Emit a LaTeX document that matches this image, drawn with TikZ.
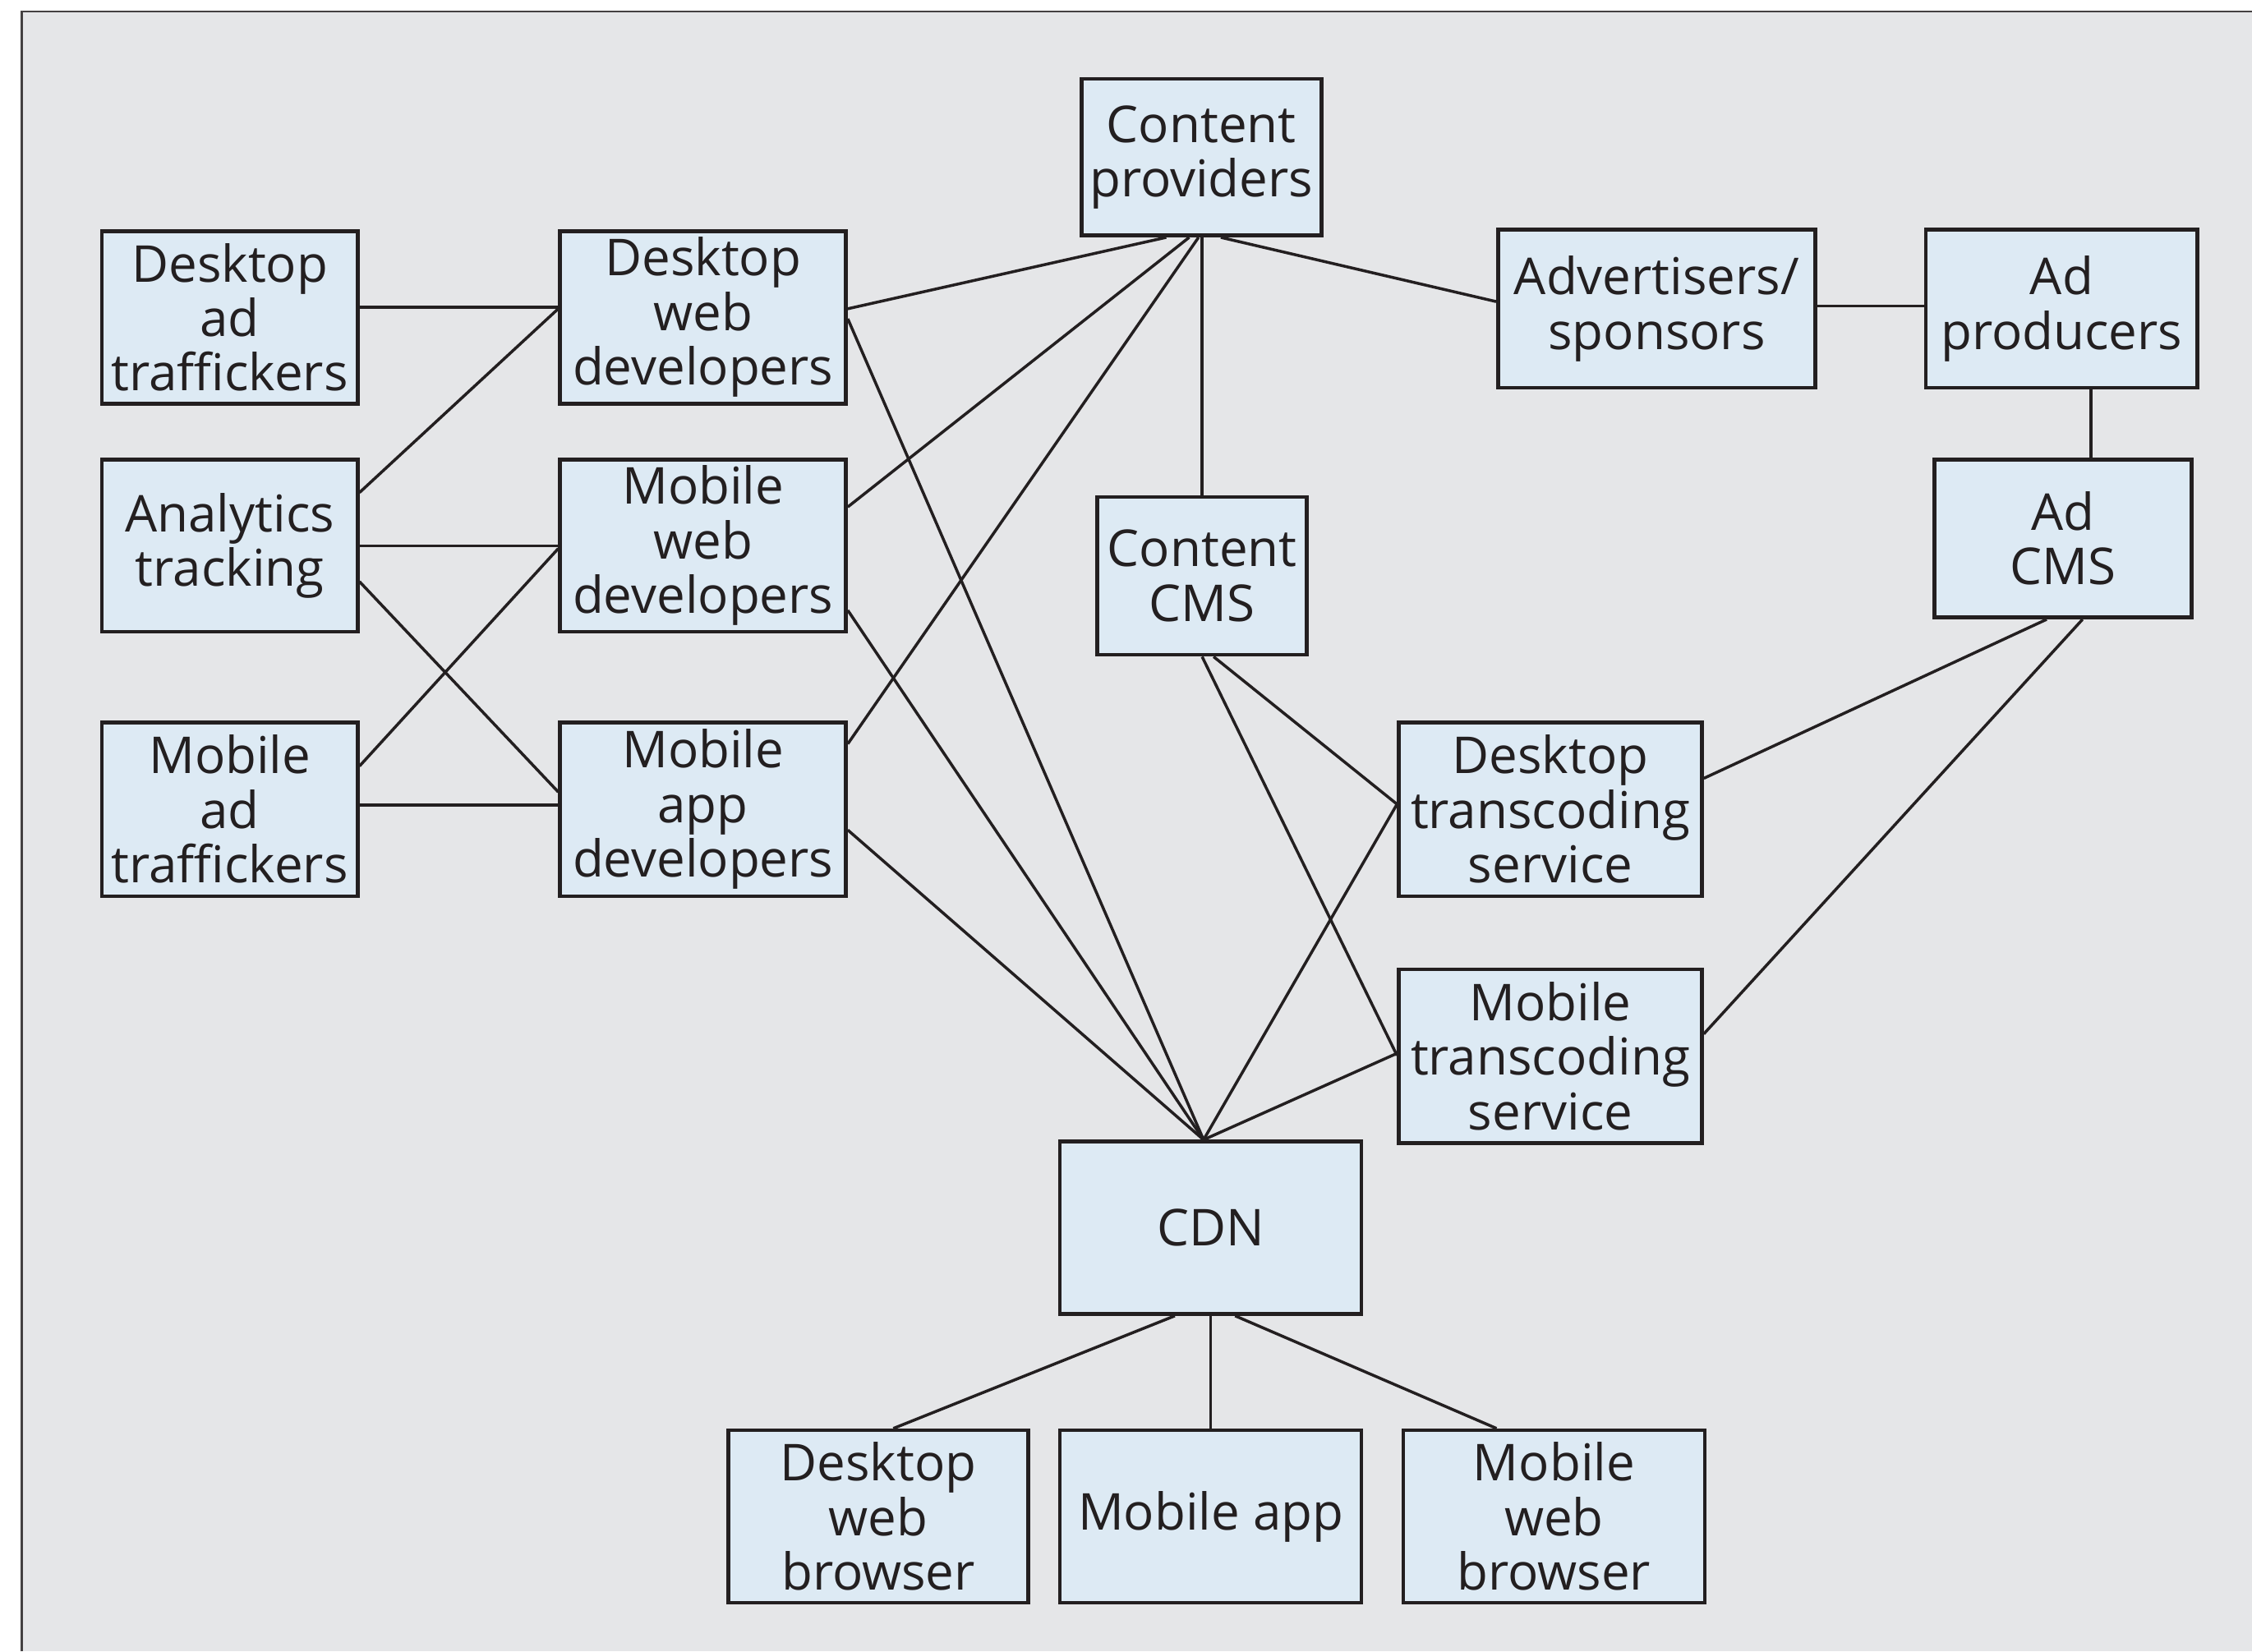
\documentclass[tikz,border=0pt]{standalone}
\usepackage{fontspec}
\setmainfont{Open Sans}
\usetikzlibrary{calc}
\definecolor{bg}{HTML}{E5E6E8}
\definecolor{boxfill}{HTML}{DDEAF4}
\definecolor{ink}{HTML}{231F20}
\newcommand\mkbox[6]{\node[box, minimum width={#4*0.01748cm}, minimum height={#5*0.01748cm}] (#1) at (#2,#3) {#6};}
\begin{document}
\begin{tikzpicture}[x=0.01748cm,y=-0.01748cm,
  box/.style={draw=ink, line width=1.3pt, fill=boxfill, text=ink, align=center, inner sep=0pt, font=\fontsize{17.6}{18.9}\selectfont},
  link/.style={draw=ink, line width=1pt}]
\useasboundingbox (0,0) rectangle (1568,1150);
\fill[white] (0,0) rectangle (1568,1150);
\fill[bg] (15,8) rectangle (1568,1150);
\draw[ink!85, line width=0.8pt] (15,1150) -- (15,8) -- (1568,8);

\mkbox{dat}{160}{221}{178}{120}{Desktop\\ad\\traffickers}
\mkbox{dwd}{489.5}{221}{199}{120}{Desktop\\web\\developers}
\mkbox{cp}{836.5}{109.5}{167}{109}{Content\\providers}
\mkbox{adv}{1153.5}{215}{221}{110}{Advertisers/\\sponsors}
\mkbox{adp}{1435.5}{215}{189}{110}{Ad\\producers}
\mkbox{at}{160}{380}{178}{120}{Analytics\\tracking}
\mkbox{mwd}{489.5}{380}{199}{120}{Mobile\\web\\developers}
\mkbox{ccms}{837}{401}{146}{110}{Content\\CMS}
\mkbox{adcms}{1436.5}{375}{179}{110}{Ad\\CMS}
\mkbox{mat}{160}{563.5}{178}{121}{Mobile\\ad\\traffickers}
\mkbox{mad}{489.5}{563.5}{199}{121}{Mobile\\app\\developers}
\mkbox{dts}{1079.5}{563.5}{211}{121}{Desktop\\transcoding\\service}
\mkbox{mts}{1079.5}{735.5}{211}{121}{Mobile\\transcoding\\service}
\mkbox{cdn}{843}{855}{210}{120}{CDN}
\mkbox{dwb}{611.5}{1056}{209}{120}{Desktop\\web\\browser}
\mkbox{mapp}{843}{1056}{210}{120}{Mobile app}
\mkbox{mwb}{1082}{1056}{210}{120}{Mobile\\web\\browser}

\coordinate (cdntop) at ($(cdn.north)+(-5,0)$);

% left column to developers
\draw[link] ($(dat.east)+(0,-7)$) -- ($(dwd.west)+(0,-7)$);
\draw[link] ($(at.east)+(0,-37)$) -- ($(dwd.west)+(0,-6)$);
\draw[link] (at.east) -- (mwd.west);
\draw[link] ($(at.east)+(0,25)$) -- ($(mad.west)+(0,-12)$);
\draw[link] ($(mat.east)+(0,-30)$) -- ($(mwd.west)+(0,2)$);
\draw[link] ($(mat.east)+(0,-3)$) -- ($(mad.west)+(0,-3)$);

% developers to content providers and CDN
\draw[link] ($(dwd.east)+(0,-6)$) -- ($(cp.south)+(-24.5,0)$);
\draw[link] ($(dwd.east)+(0,1)$) -- (cdntop);
\draw[link] ($(mwd.east)+(0,-27)$) -- ($(cp.south)+(-8.5,0)$);
\draw[link] ($(mwd.east)+(0,45)$) -- (cdntop);
\draw[link] ($(mad.east)+(0,-45.5)$) -- ($(cp.south)+(-2,0)$);
\draw[link] ($(mad.east)+(0,14.5)$) -- (cdntop);

% content providers
\draw[link] (ccms.north) -- (ccms.north |- cp.south);
\draw[link] ($(cp.south)+(13.5,0)$) -- ($(adv.west)+(0,-5)$);
\draw[link] ($(adv.east)+(0,-2)$) -- ($(adp.west)+(0,-2)$);
\draw[link] ($(adp.south)+(20.5,0)$) -- ($(adcms.north)+(19.5,0)$);

% CMS to transcoding
\draw[link] ($(ccms.south)+(8,0)$) -- ($(dts.west)+(0,-3.5)$);
\draw[link] ($(ccms.south)+(0,0)$) -- ($(mts.west)+(0,-0.5)$);
\draw[link] ($(adcms.south)+(-11.5,0)$) -- ($(dts.east)+(0,-21.5)$);
\draw[link] ($(adcms.south)+(13.5,0)$) -- ($(mts.east)+(0,-15.5)$);
\draw[link] ($(dts.west)+(0,-3.5)$) -- (cdntop);
\draw[link] ($(mts.west)+(0,-2)$) -- (cdntop);

% CDN to clients
\draw[link] ($(cdn.south)+(-25,0)$) -- ($(dwb.north)+(10.5,0)$);
\draw[link] (cdn.south) -- (mapp.north);
\draw[link] ($(cdn.south)+(17,0)$) -- ($(mwb.north)+(-40,0)$);
\end{tikzpicture}
\end{document}
